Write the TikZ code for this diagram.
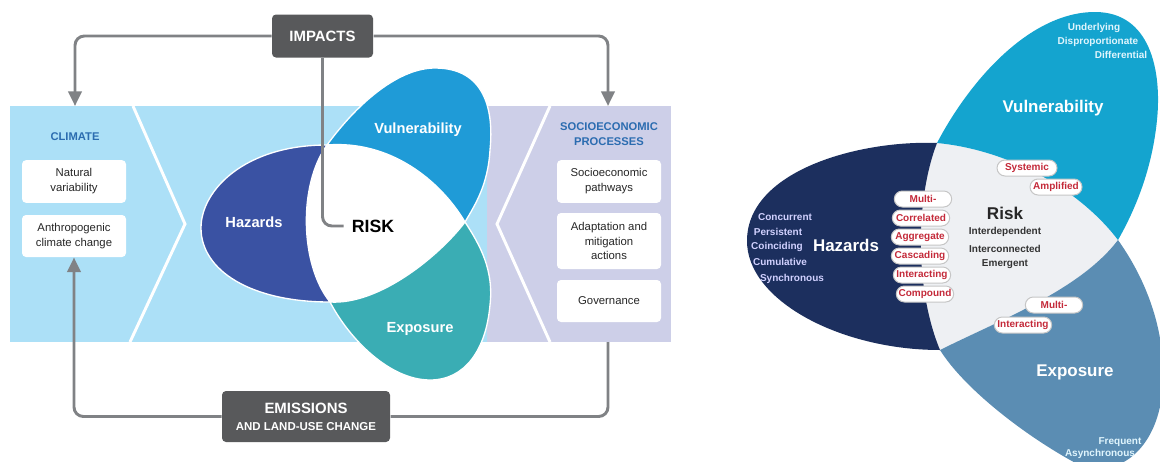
\documentclass[tikz,border=0pt]{standalone}
\usepackage{fontspec}
\setmainfont{Liberation Sans}
\usetikzlibrary{arrows.meta}

\definecolor{climblue}{RGB}{172,224,247}
\definecolor{socpurple}{RGB}{205,207,232}
\definecolor{hazblue}{RGB}{58,82,163}
\definecolor{vulblue}{RGB}{31,155,215}
\definecolor{expteal}{RGB}{58,173,180}
\definecolor{boxgray}{RGB}{88,89,91}
\definecolor{flowgray}{RGB}{128,130,133}
\definecolor{headblue}{RGB}{43,108,176}
\definecolor{haznavy}{RGB}{28,47,94}
\definecolor{vulcyan}{RGB}{20,164,207}
\definecolor{expsteel}{RGB}{91,141,179}
\definecolor{riskgray}{RGB}{238,240,243}
\definecolor{pillred}{RGB}{196,42,58}

\tikzset{every picture/.style={line width=0.75pt}}
\tikzset{
  darkbox/.style={fill=boxgray, rounded corners=3pt, text=white, font=\bfseries, align=center, inner sep=0pt},
  whitebox/.style={fill=white, rounded corners=3pt, minimum width=78pt, inner sep=0pt, align=center, font=\fontsize{8.5}{11.2}\selectfont, text=black!85},
  flow/.style={draw=flowgray, line width=2.2pt, rounded corners=7pt},
  flowarrow/.style={flow, -{Triangle[length=11pt,width=10pt]}},
  heading/.style={text=headblue, font=\fontsize{8.4}{11.2}\selectfont\bfseries, align=center},
  petal/.style={draw=white, line width=1pt},
  petaltext/.style={text=white, font=\fontsize{11}{13}\selectfont\bfseries},
  pill/.style={draw=gray!45, fill=white, rounded corners=6pt, text=pillred, font=\fontsize{7.5}{9}\selectfont\bfseries, minimum width=43pt, minimum height=12pt, inner sep=1pt},
  word/.style={font=\fontsize{7.5}{9}\selectfont\bfseries},
  bigword/.style={text=white, font=\fontsize{12.7}{15}\selectfont\bfseries},
}

\begin{document}
\begin{tikzpicture}[x=0.75pt,y=0.75pt,yscale=-1,xscale=1]
\useasboundingbox (0,0) rectangle (1160,461);

%Shape: Rectangle (climate panel)
\fill[climblue] (10,106) rectangle (487,342);
%Shape: Rectangle (socioeconomic panel)
\fill[socpurple] (487,106) rectangle (671,342);
%Straight Lines (chevrons)
\draw[white, line width=2.2pt] (133,106) -- (185,224) -- (130,342);
\draw[white, line width=2.2pt] (550,106) -- (497,224) -- (550,342);

%Shape: Risk centre
\fill[white] (327,145) .. controls (390,140) and (440,180) .. (465,222) .. controls (440,255) and (380,305) .. (330,302) .. controls (300,265) and (298,185) .. cycle;
%Shape: Hazards petal
\draw[petal, fill=hazblue] (327,145) .. controls (245,145) and (201,190) .. (201,228) .. controls (201,270) and (250,302) .. (330,302) .. controls (300,265) and (298,185) .. cycle;
%Shape: Vulnerability petal
\draw[petal, fill=vulblue] (327,145) .. controls (360,100) and (400,68) .. (435,68) .. controls (485,68) and (494,110) .. (490,150) .. controls (488,185) and (475,205) .. (465,222) .. controls (440,180) and (390,140) .. cycle;
%Shape: Exposure petal
\draw[petal, fill=expteal] (465,222) .. controls (480,245) and (494,270) .. (490,305) .. controls (486,350) and (465,380) .. (430,380) .. controls (390,380) and (350,340) .. (330,302) .. controls (380,305) and (440,255) .. cycle;

% Text Node
\node[petaltext] (hazards) at (254,222) {Hazards};
% Text Node
\node[petaltext] (vulnerability) at (418,130) {Vulnerability};
% Text Node
\node[petaltext] (exposure) at (420,329) {Exposure};
% Text Node
\node[font=\fontsize{13.3}{15}\selectfont\bfseries, inner sep=0.75pt] (risk) at (373,226) {RISK};

% Text Node
\node[heading] (climate) at (75,137) {CLIMATE};
\node[whitebox, minimum height=32pt] (natural) at (74,181.5) {Natural\\variability};
\node[whitebox, minimum height=31.5pt] (anthro) at (74,236) {Anthropogenic\\climate change};
% Text Node
\node[heading] (socio) at (609,134) {SOCIOECONOMIC\\PROCESSES};
\node[whitebox, minimum height=32pt] (pathways) at (609,181.5) {Socioeconomic\\pathways};
\node[whitebox, minimum height=42pt] (adaptation) at (609,241) {Adaptation and\\mitigation\\actions};
\node[whitebox, minimum height=31.5pt] (governance) at (609,301) {Governance};

%Shape: Rectangle (impacts)
\node[darkbox, minimum width=75.75pt, minimum height=32.25pt, font=\fontsize{11.2}{13}\selectfont\bfseries] (impacts) at (322.5,36) {IMPACTS};
%Shape: Rectangle (emissions)
\node[darkbox, minimum width=126pt, minimum height=38.25pt] (emissions) at (306,416.5) {\fontsize{11.2}{14}\selectfont EMISSIONS\\[1pt]\fontsize{8.6}{10}\selectfont AND LAND-USE CHANGE};

\coordinate (climtop) at (75,106);
\coordinate (soctop) at (608,106);
\coordinate (socbot) at (608,342);

%Straight Lines (feedback loops)
\draw[flowarrow] (impacts.west) -| (climtop);
\draw[flowarrow] (impacts.east) -| (soctop);
\draw[flow, shorten >=5pt] (impacts.south) |- (risk.west);
\draw[flowarrow] (emissions.west) -| (anthro.south);
\draw[flow] (emissions.east) -| (socbot);

%Shape: Risk region (right)
\fill[riskgray] (937,143) .. controls (1010,150) and (1080,190) .. (1118,240) .. controls (1080,290) and (1000,320) .. (940,350) .. controls (915,290) and (915,200) .. cycle;
%Shape: Hazards (right)
\fill[haznavy] (937,143) .. controls (860,140) and (748,170) .. (747,240) .. controls (746,300) and (840,350) .. (940,350) .. controls (915,290) and (915,200) .. cycle;
%Shape: Vulnerability (right)
\fill[vulcyan] (937,143) .. controls (970,80) and (1030,12) .. (1095,12) .. controls (1150,12) and (1162,70) .. (1157,120) .. controls (1152,170) and (1135,210) .. (1118,240) .. controls (1080,190) and (1010,150) .. cycle;
%Shape: Exposure (right)
\begin{scope}
\clip (0,0) rectangle (1160,461);
\fill[expsteel] (1118,240) .. controls (1150,285) and (1168,340) .. (1162,395) .. controls (1155,450) and (1120,475) .. (1085,468) .. controls (1030,440) and (965,390) .. (940,350) .. controls (1000,320) and (1080,290) .. cycle;
\end{scope}

% Text Node
\node[word, text=white!88!cyan] (underlying) at (1094,28) {Underlying};
\node[word, text=white!88!cyan] (disprop) at (1098,42) {Disproportionate};
\node[word, text=white!88!cyan] (differential) at (1121,55) {Differential};
\node[bigword] (vulnerabilityR) at (1053,108) {Vulnerability};
% Text Node
\node[word, text=white!82!blue] (concurrent) at (785,217) {Concurrent};
\node[word, text=white!82!blue] (persistent) at (778,232) {Persistent};
\node[word, text=white!82!blue] (coinciding) at (777,247) {Coinciding};
\node[word, text=white!82!blue] (cumulative) at (780,262) {Cumulative};
\node[word, text=white!82!blue] (synchronous) at (792,279) {Synchronous};
\node[bigword] (hazardsR) at (846,245) {Hazards};
% Text Node
\node[font=\fontsize{12.8}{15}\selectfont\bfseries, text=black!85] (riskR) at (1005,213) {Risk};
\node[word, text=black!80] (interdep) at (1005,232) {Interdependent};
\node[word, text=black!80] (interconn) at (1005,249) {Interconnected};
\node[word, text=black!80] (emergent) at (1005,264) {Emergent};
% Text Node
\node[bigword] (exposureR) at (1075,372) {Exposure};
\node[word, text=white!88!cyan] (frequent) at (1120,442) {Frequent};
\node[word, text=white!88!cyan] (asynchronous) at (1100,454) {Asynchronous};

%Shape: Pills
\node[pill] (multiH) at (923,199) {Multi-};
\node[pill] (correlated) at (921,218) {Correlated};
\node[pill] (aggregate) at (920,237) {Aggregate};
\node[pill] (cascading) at (920,256) {Cascading};
\node[pill] (interactingH) at (922,275) {Interacting};
\node[pill] (compound) at (925,294) {Compound};
\node[pill, minimum width=45pt] (systemic) at (1027,168) {Systemic};
\node[pill, minimum width=39pt] (amplified) at (1056,187) {Amplified};
\node[pill] (multiE) at (1054,305) {Multi-};
\node[pill] (interactingE) at (1023,325) {Interacting};

\end{tikzpicture}
\end{document}
